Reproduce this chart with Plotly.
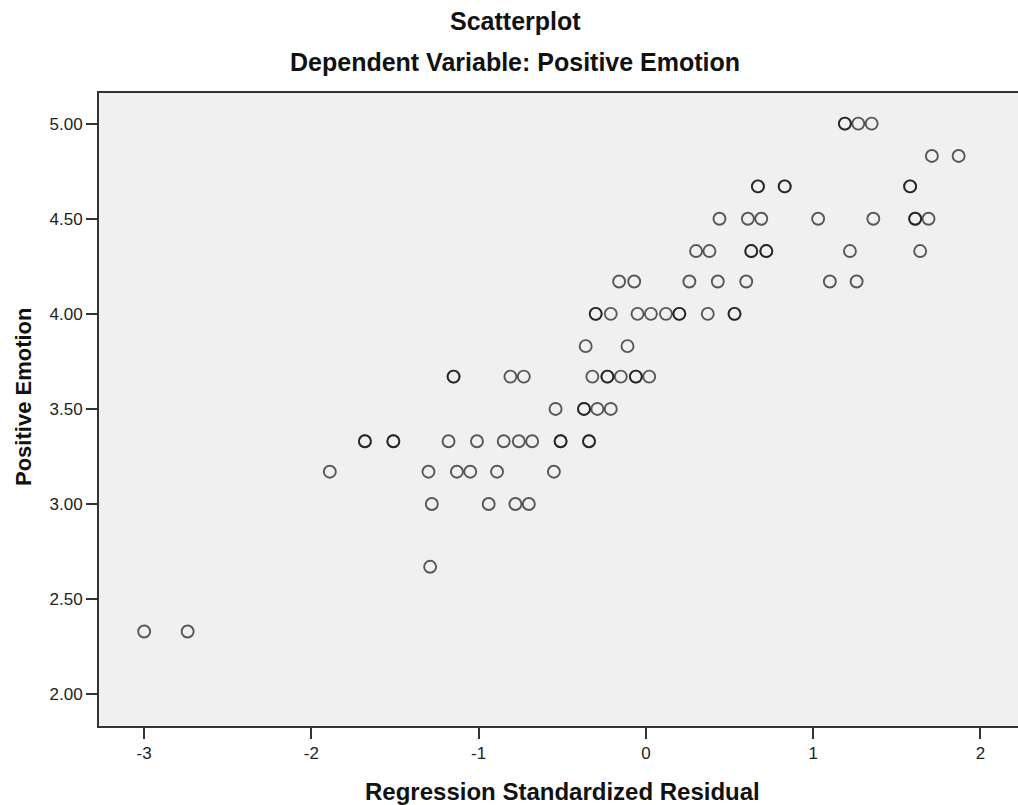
import plotly.graph_objects as go

# ---- data (x = regression standardized residual, y = Positive Emotion)
# cases = number of overlapping observations drawn at the same spot (darker rings)
residual = [
    1.19, 1.27, 1.35,
    1.71, 1.87,
    0.67, 0.83, 1.58,
    0.44, 0.61, 0.69, 1.03, 1.36, 1.61, 1.69,
    0.30, 0.38, 0.63, 0.72, 1.22, 1.64,
    -0.16, -0.07, 0.26, 0.43, 0.60, 1.10, 1.26,
    -0.30, -0.21, -0.05, 0.03, 0.12, 0.20, 0.37, 0.53,
    -0.36, -0.11,
    -1.15, -0.81, -0.73, -0.32, -0.23, -0.15, -0.06, 0.02,
    -0.54, -0.37, -0.29, -0.21,
    -1.68, -1.51, -1.18, -1.01, -0.85, -0.76, -0.68, -0.51, -0.34,
    -1.89, -1.30, -1.13, -1.05, -0.89, -0.55,
    -1.28, -0.94, -0.78, -0.70,
    -1.29,
    -3.00, -2.74,
]
emotion = (
    [5.00] * 3 + [4.83] * 2 + [4.67] * 3 + [4.50] * 7 + [4.33] * 6 + [4.17] * 7
    + [4.00] * 8 + [3.83] * 2 + [3.67] * 8 + [3.50] * 4 + [3.33] * 9 + [3.17] * 6
    + [3.00] * 4 + [2.67] * 1 + [2.33] * 2
)
cases = [
    2, 1, 1,
    1, 1,
    2, 2, 2,
    1, 1, 1, 1, 1, 2, 1,
    1, 1, 2, 2, 1, 1,
    1, 1, 1, 1, 1, 1, 1,
    2, 1, 1, 1, 1, 2, 1, 2,
    1, 1,
    2, 1, 1, 1, 2, 1, 2, 1,
    1, 2, 1, 1,
    2, 2, 1, 1, 1, 1, 1, 2, 2,
    1, 1, 1, 1, 1, 1,
    1, 1, 1, 1,
    1,
    1, 1,
]
x_ticks = [-3, -2, -1, 0, 1, 2]
x_ticktext = ["-3", "-2", "-1", "0", "1", "2"]
y_ticks = [2.0, 2.5, 3.0, 3.5, 4.0, 4.5, 5.0]
y_ticktext = ["2.00", "2.50", "3.00", "3.50", "4.00", "4.50", "5.00"]

title_main = "Scatterplot"
title_sub = "Dependent Variable: Positive Emotion"
x_title = "Regression Standardized Residual"
y_title = "Positive Emotion"

# expand overlapping cases
xs, ys = [], []
for xv, yv, n in zip(residual, emotion, cases):
    xs += [xv] * n
    ys += [yv] * n

W, H = 1018, 805
ML, MR, MT, MB = 99, 0, 93, 79
PW, PH = W - ML - MR, H - MT - MB


def px_x(p):
    return (p - ML) / PW


def px_y(p):
    return (H - MB - p) / PH


FONT = "Liberation Sans, Arial, sans-serif"

fig = go.Figure(
    go.Scatter(
        x=xs,
        y=ys,
        mode="markers",
        marker=dict(
            symbol="circle-open",
            size=12,
            color="rgba(15,15,15,0.68)",
            line=dict(width=1.9, color="rgba(15,15,15,0.68)"),
        ),
        hoverinfo="x+y",
        showlegend=False,
    )
)

fig.update_layout(
    width=W,
    height=H,
    margin=dict(l=ML, r=MR, t=MT, b=MB, pad=0),
    paper_bgcolor="white",
    plot_bgcolor="#f0f0f0",
    font=dict(family=FONT, color="#222"),
    xaxis=dict(
        range=[-3.27, 2.225],
        tickvals=x_ticks,
        ticktext=x_ticktext,
        ticks="outside",
        ticklen=11,
        tickwidth=2,
        tickcolor="#333",
        showline=True,
        linecolor="#333",
        linewidth=2,
        mirror=True,
        showgrid=False,
        zeroline=False,
        tickfont=dict(size=17, family=FONT, color="#222"),
    ),
    yaxis=dict(
        range=[1.833, 5.161],
        tickvals=y_ticks,
        ticktext=y_ticktext,
        ticks="outside",
        ticklen=11,
        tickwidth=2,
        tickcolor="#333",
        showline=True,
        linecolor="#333",
        linewidth=2,
        mirror=False,
        showgrid=False,
        zeroline=False,
        tickfont=dict(size=17, family=FONT, color="#222"),
    ),
    annotations=[
        dict(text=title_main, x=px_x(515), y=px_y(21), xref="paper", yref="paper",
             xanchor="center", yanchor="middle", showarrow=False,
             font=dict(size=25, family=FONT, color="#111", weight="bold")),
        dict(text=title_sub, x=px_x(515), y=px_y(62), xref="paper", yref="paper",
             xanchor="center", yanchor="middle", showarrow=False,
             font=dict(size=25, family=FONT, color="#111", weight="bold")),
        dict(text=x_title, x=px_x(562), y=px_y(791), xref="paper", yref="paper",
             xanchor="center", yanchor="middle", showarrow=False,
             font=dict(size=24, family=FONT, color="#111", weight="bold")),
        dict(text=y_title, x=px_x(23), y=px_y(397), xref="paper", yref="paper",
             xanchor="center", yanchor="middle", showarrow=False, textangle=-90,
             font=dict(size=22, family=FONT, color="#111", weight="bold")),
    ],
)

fig.write_html("out.html")
